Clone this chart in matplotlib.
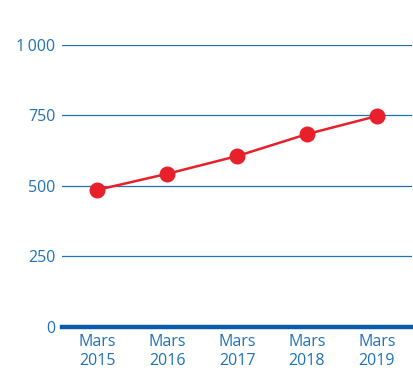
import numpy as np
import matplotlib
matplotlib.use("Agg")
import matplotlib.pyplot as plt

#%% data
periods = ["Mars\n2015", "Mars\n2016", "Mars\n2017", "Mars\n2018", "Mars\n2019"]
values = [486, 543, 606, 684, 748]
yticks = [0, 250, 500, 750, 1000]
ylabels = ["0", "250", "500", "750", "1\u2009000"]

blue = "#1f72b8"
red = "#e8202a"

#%% figure
fig = plt.figure(figsize=(4.14, 3.74), dpi=100)
ax = fig.add_axes([0.15, 0.1257, 0.845, 0.754])

xx = np.arange(len(values))
ax.set_xlim(-0.5, 4.5)
ax.set_ylim(0, 1000)

for t in yticks[1:]:
    ax.axhline(t, color=blue, lw=0.9, zorder=1)
ax.axhline(0, color="#0a5ca8", lw=3.2, zorder=2, clip_on=False)

ax.plot(xx, values, color=red, lw=1.8, marker="o", ms=10.5, zorder=3, clip_on=False)

ax.set_yticks(yticks)
ax.set_yticklabels(ylabels)
ax.set_xticks(xx)
ax.set_xticklabels(periods, linespacing=1.25)

for s in ax.spines.values():
    s.set_visible(False)
ax.tick_params(axis="both", length=0, colors=blue, labelsize=11.5)
ax.tick_params(axis="y", pad=5)
ax.tick_params(axis="x", pad=5)
for lab in ax.get_xticklabels() + ax.get_yticklabels():
    lab.set_fontfamily(["Open Sans", "DejaVu Sans"])

fig.savefig("out.png", dpi=100)
